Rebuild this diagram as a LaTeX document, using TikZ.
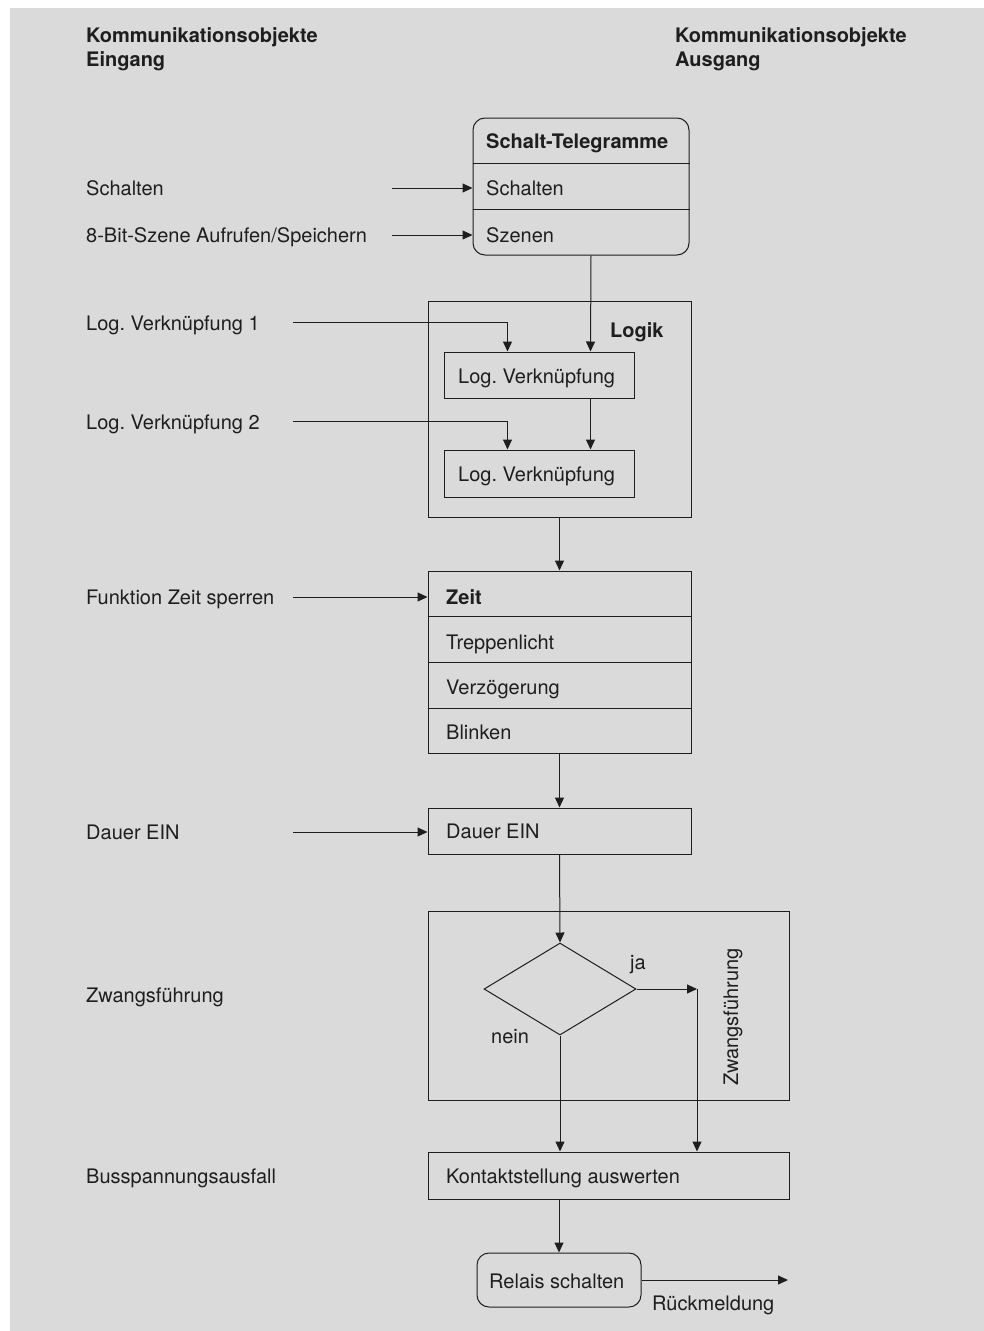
\documentclass[tikz,border=0pt]{standalone}
\usepackage{fontspec}
\setmainfont{TeX Gyre Heros}
\usetikzlibrary{arrows.meta,shapes.geometric,calc}
\definecolor{bggray}{RGB}{218,218,218}
\definecolor{ink}{RGB}{30,30,30}
\frenchspacing
\begin{document}
\begin{tikzpicture}[x=1pt,y=-1pt,
  lbl/.style={inner sep=0pt,anchor=base west,font=\fontsize{20}{24}\selectfont,text=ink},
  blbl/.style={lbl,font=\fontsize{20}{24}\selectfont\bfseries},
  boxn/.style={draw=ink,line width=1pt,rectangle,inner sep=0pt,fill=none},
  arr/.style={draw=ink,line width=1pt,-{Triangle[length=10pt,width=9pt]}},
  ln/.style={draw=ink,line width=1pt}]
\useasboundingbox (0,0) rectangle (984,1331);
\fill[bggray] (10,8) rectangle (984,1331);

% headers
\node[blbl] (h1a) at (86,42) {Kommunikationsobjekte};
\node[blbl] (h1b) at (86,66) {Eingang};
\node[blbl] (h2a) at (675,42) {Kommunikationsobjekte};
\node[blbl] (h2b) at (675,66) {Ausgang};

% left labels
\node[lbl] (lschalten) at (86,195.5) {Schalten};
\node[lbl] (lszene) at (86,242.5) {8-Bit-Szene Aufrufen/Speichern};
\node[lbl] (llog1) at (86,330) {Log.\ Verknüpfung 1};
\node[lbl] (llog2) at (86,429) {Log.\ Verknüpfung 2};
\node[lbl] (lzeit) at (86,604.5) {Funktion Zeit sperren};
\node[lbl] (ldauer) at (86,839) {Dauer EIN};
\node[lbl] (lzwang) at (86,1002.5) {Zwangsführung};
\node[lbl] (lbus) at (86,1183.5) {Busspannungsausfall};

% Schalt-Telegramme
\node[boxn,rounded corners=12pt,minimum width=216pt,minimum height=137pt] (st) at (581,186.5) {};
\draw[ln] ($(st.north west)+(0,46)$) -- ($(st.north east)+(0,46)$);
\draw[ln] ($(st.north west)+(0,92)$) -- ($(st.north east)+(0,92)$);
\node[blbl] (tst) at (486,148.5) {Schalt-Telegramme};
\node[lbl] (tsch) at (486,195.5) {Schalten};
\node[lbl] (tsz) at (486,242.5) {Szenen};
\coordinate (a1) at (392,188);
\coordinate (a2) at (392,235);
\draw[arr] (a1) -- (a1 -| st.west);
\draw[arr] (a2) -- (a2 -| st.west);

% Logik
\node[boxn,minimum width=263pt,minimum height=216pt] (logik) at (559.5,409) {};
\node[blbl] (tlogik) at (610,337.5) {Logik};
\node[boxn,minimum width=190pt,minimum height=46pt] (lv1) at (539,375) {};
\node[lbl] (tlv1) at (458,383.5) {Log.\ Verknüpfung};
\node[boxn,minimum width=190pt,minimum height=47pt] (lv2) at (539,473.5) {};
\node[lbl] (tlv2) at (458,481.5) {Log.\ Verknüpfung};
\coordinate (b1) at (293,322.5);
\coordinate (b2) at (293,421.5);
\draw[arr] (b1) -| ($(lv1.north west)+(64,0)$);
\draw[arr] (b2) -| ($(lv2.north west)+(64,0)$);
\draw[arr] ($(st.south)+(10,0)$) -- ($(lv1.north west)+(147,0)$);
\draw[arr] ($(lv1.south west)+(147,0)$) -- ($(lv2.north west)+(147,0)$);

% Zeit
\node[boxn,minimum width=263pt,minimum height=182pt] (zeit) at (559.5,662) {};
\draw[ln] ($(zeit.north west)+(0,46)$) -- ($(zeit.north east)+(0,46)$);
\draw[ln] ($(zeit.north west)+(0,92)$) -- ($(zeit.north east)+(0,92)$);
\draw[ln] ($(zeit.north west)+(0,138)$) -- ($(zeit.north east)+(0,138)$);
\node[blbl] (tzeit) at (446,604.5) {Zeit};
\node[lbl] (ttrep) at (446,649.5) {Treppenlicht};
\node[lbl] (tverz) at (446,694.5) {Verzögerung};
\node[lbl] (tblink) at (446,739.5) {Blinken};
\draw[arr] (logik.south) -- (zeit.north);
\coordinate (c1) at (293,597);
\draw[arr] (c1) -- (c1 -| zeit.west);

% Dauer EIN
\node[boxn,minimum width=263pt,minimum height=46pt] (dauer) at (559.5,831) {};
\node[lbl] (tdauer) at (446,838.5) {Dauer EIN};
\draw[arr] (zeit.south) -- (dauer.north);
\coordinate (d1) at (293,832);
\draw[arr] (d1) -- (d1 -| dauer.west);

% Zwangsfuehrung
\node[boxn,minimum width=361pt,minimum height=189pt] (zwang) at (608.5,1005.5) {};
\node[draw=ink,line width=1pt,diamond,inner sep=0pt,minimum width=152pt,minimum height=92pt] (dia) at (560,989) {};
\draw[arr] (dauer.south) -- (dia.north);
\node[lbl] (tja) at (630,969) {ja};
\node[lbl] (tnein) at (491,1043) {nein};
\node[inner sep=0pt,font=\fontsize{20}{24}\selectfont,text=ink,rotate=90] (tzw) at (733,1017) {Zwangsführung};
\coordinate (jx) at (697,989);
\draw[arr] (dia.east) -- (jx);

% Kontaktstellung
\node[boxn,minimum width=361pt,minimum height=47pt] (kon) at (608.5,1175.5) {};
\node[lbl] (tkon) at (446,1183) {Kontaktstellung auswerten};
\draw[arr] (jx) -- (jx |- kon.north);
\draw[arr] (dia.south) -- (dia.south |- kon.north);

% Relais
\node[boxn,rounded corners=12pt,minimum width=164pt,minimum height=54pt] (rel) at (559,1280) {};
\node[lbl] (trel) at (489,1288) {Relais schalten};
\draw[arr] (kon.south -| rel.north) -- (rel.north);
\coordinate (r1) at (788,1280);
\draw[arr] (rel.east) -- (r1);
\node[lbl] (trueck) at (652,1310) {Rückmeldung};
\end{tikzpicture}
\end{document}
